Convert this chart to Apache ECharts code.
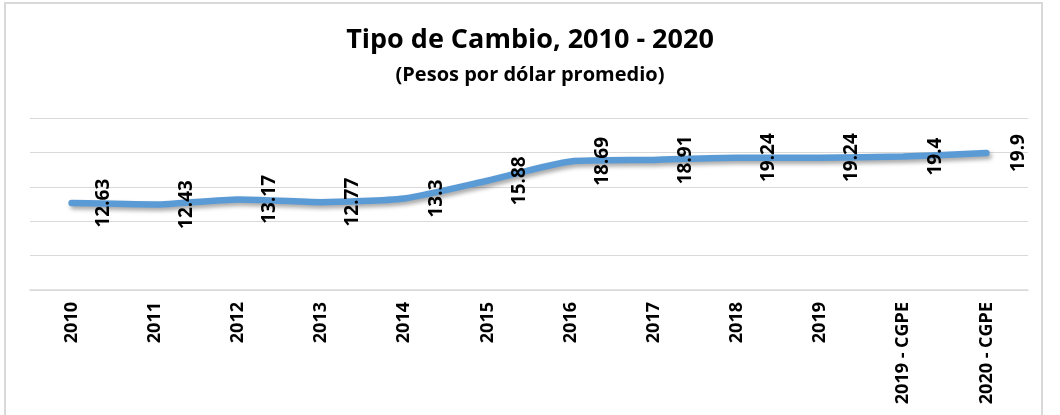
<!DOCTYPE html>
<html>
<head>
<meta charset="utf-8">
<script src="https://cdn.jsdelivr.net/npm/echarts@6/dist/echarts.min.js"></script>
<style>
  html, body { margin: 0; padding: 0; background: #fff; }
  #chart { width: 1060px; height: 415px; }
</style>
</head>
<body>
<div id="chart"></div>
<script>
const years = ['2010', '2011', '2012', '2013', '2014', '2015', '2016', '2017', '2018', '2019', '2019 - CGPE', '2020 - CGPE']
const tipoCambio = [12.63, 12.43, 13.17, 12.77, 13.3, 15.88, 18.69, 18.91, 19.24, 19.24, 19.4, 19.9]

const chart = echarts.init(document.getElementById('chart'))

const font = '"Open Sans", sans-serif'

chart.setOption({
  backgroundColor: '#fff',
  animation: false,
  title: {
    text: 'Tipo de Cambio, 2010 - 2020',
    subtext: '(Pesos por dólar promedio)',
    left: 'center',
    top: 22,
    itemGap: 11,
    textStyle: { fontFamily: font, fontSize: 27, fontWeight: 'bold', color: '#000' },
    subtextStyle: { fontFamily: font, fontSize: 20, fontWeight: 'bold', color: '#000' }
  },
  graphic: [{
    type: 'rect',
    shape: { x: 5, y: 3, width: 1037, height: 430 },
    style: { fill: 'none', stroke: '#d9d9d9', lineWidth: 2 },
    silent: true
  }],
  grid: { left: 30, right: 32, top: 118, bottom: 125 },
  xAxis: {
    type: 'category',
    data: years,
    axisLine: { lineStyle: { color: '#d9d9d9', width: 1.5 } },
    axisTick: { show: false },
    axisLabel: {
      rotate: 90,
      margin: 12,
      interval: 0,
      fontFamily: font,
      fontSize: 18,
      fontWeight: 'bold',
      color: '#000'
    }
  },
  yAxis: {
    type: 'value',
    min: 0,
    max: 25,
    interval: 5,
    axisLine: { show: false },
    axisTick: { show: false },
    axisLabel: { show: false },
    splitLine: { lineStyle: { color: '#d9d9d9', width: 1 } }
  },
  series: [{
    type: 'line',
    data: tipoCambio,
    smooth: 0.2,
    symbol: 'circle',
    symbolSize: 2,
    itemStyle: { color: '#5b9bd5' },
    lineStyle: {
      color: '#5b9bd5',
      width: 6.5,
      cap: 'round',
      shadowColor: 'rgba(0,0,0,0.35)',
      shadowBlur: 4,
      shadowOffsetX: 2,
      shadowOffsetY: 3
    },
    label: {
      show: true,
      position: 'inside',
      rotate: 90,
      offset: [0, 32],
      align: 'center',
      verticalAlign: 'middle',
      fontFamily: font,
      fontSize: 19,
      fontWeight: 'bold',
      color: '#000'
    }
  }]
})
</script>
</body>
</html>
